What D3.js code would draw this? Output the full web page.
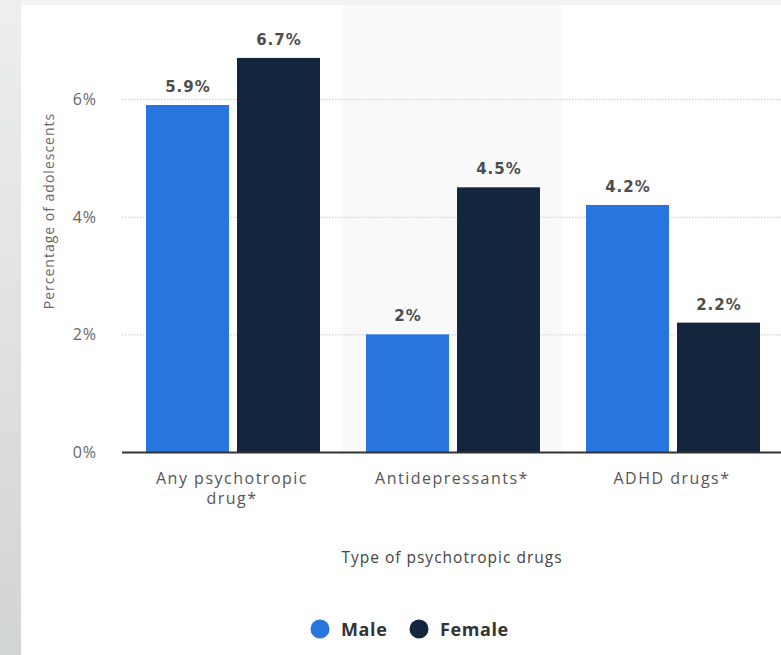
<!DOCTYPE html>
<html>
<head>
<meta charset="utf-8">
<script src="https://cdnjs.cloudflare.com/ajax/libs/d3/7.8.5/d3.min.js"></script>
<style>
  html, body { margin: 0; padding: 0; background: #f3f3f3; }
  svg { display: block; }
</style>
</head>
<body>
<div id="chart"></div>
<script>
// data
var categories = ["Any psychotropic drug*", "Antidepressants*", "ADHD drugs*"];
var categoryLines = [["Any psychotropic", "drug*"], ["Antidepressants*"], ["ADHD drugs*"]];
var groups = ["Male", "Female"];
var maleValues = [5.9, 2, 4.2];
var femaleValues = [6.7, 4.5, 2.2];
var yTicks = [0, 2, 4, 6];
var colors = ["#2876dd", "#13263d"];

var W = 781, H = 655;

var svg = d3.select("#chart")
  .append("svg")
    .attr("width", W)
    .attr("height", H);

// page background: left strip gradient + white panel
var defs = svg.append("defs");
var grad = defs.append("linearGradient")
    .attr("id", "side")
    .attr("x1", 0).attr("y1", 0).attr("x2", 0).attr("y2", 1);
grad.append("stop").attr("offset", "0%").attr("stop-color", "#eeeeee");
grad.append("stop").attr("offset", "100%").attr("stop-color", "#d2d5d5");

svg.append("rect")
    .attr("x", 0).attr("y", 0)
    .attr("width", W).attr("height", H)
    .attr("fill", "#f3f3f3");
svg.append("rect")
    .attr("x", 0).attr("y", 0)
    .attr("width", 21).attr("height", H)
    .attr("fill", "url(#side)");
svg.append("rect")
    .attr("x", 21).attr("y", 5)
    .attr("width", W - 21).attr("height", H - 5)
    .attr("fill", "#ffffff");

var plotLeft = 122, plotRight = 782, plotTop = 5, plotBottom = 452;

var x = d3.scaleBand()
  .domain(categories)
  .range([plotLeft, plotRight]);

var xSub = d3.scaleBand()
  .domain(groups)
  .range([24, x.bandwidth() - 22])
  .paddingInner(0.088);

var y = d3.scaleLinear()
  .domain([0, 7.6])
  .range([plotBottom, plotTop]);

// highlighted middle band
svg.append("rect")
    .attr("x", x(categories[1]))
    .attr("y", plotTop)
    .attr("width", x.bandwidth())
    .attr("height", plotBottom - plotTop)
    .attr("fill", "#f9f9f9");

// gridlines
svg.append("g")
  .selectAll("line")
  .data(yTicks.filter(function(d) { return d > 0; }))
  .enter()
  .append("line")
    .attr("x1", plotLeft)
    .attr("x2", W)
    .attr("y1", function(d) { return y(d) + 0.5; })
    .attr("y2", function(d) { return y(d) + 0.5; })
    .attr("stroke", "#c8c8c8")
    .attr("stroke-width", 1)
    .attr("stroke-dasharray", "1.5,1.5");

// y tick labels
svg.append("g")
  .selectAll("text")
  .data(yTicks)
  .enter()
  .append("text")
    .attr("x", 97)
    .attr("y", function(d) { return y(d) + 6; })
    .attr("text-anchor", "end")
    .attr("font-family", "Open Sans, sans-serif")
    .attr("font-size", 16)
    .attr("letter-spacing", 1)
    .attr("fill", "#666")
    .text(function(d) { return d + "%"; });

// y axis title
svg.append("text")
    .attr("transform", "translate(54,211) rotate(-90)")
    .attr("text-anchor", "middle")
    .attr("font-family", "Open Sans, sans-serif")
    .attr("font-size", 14)
    .attr("letter-spacing", 1)
    .attr("fill", "#666")
    .text("Percentage of adolescents");

// bars
var rows = categories.map(function(c, i) {
  return { cat: c, values: [maleValues[i], femaleValues[i]] };
});

var catG = svg.selectAll(".cat")
  .data(rows)
  .enter()
  .append("g")
    .attr("class", "cat")
    .attr("transform", function(d) { return "translate(" + x(d.cat) + ",0)"; });

catG.selectAll("rect")
  .data(function(d) { return d.values.map(function(v, j) { return { g: groups[j], v: v, j: j }; }); })
  .enter()
  .append("rect")
    .attr("x", function(d) { return xSub(d.g); })
    .attr("y", function(d) { return y(d.v); })
    .attr("width", xSub.bandwidth())
    .attr("height", function(d) { return plotBottom - y(d.v); })
    .attr("fill", function(d) { return colors[d.j]; });

catG.selectAll(".val")
  .data(function(d) { return d.values.map(function(v, j) { return { g: groups[j], v: v, j: j }; }); })
  .enter()
  .append("text")
    .attr("class", "val")
    .attr("x", function(d) { return xSub(d.g) + xSub.bandwidth() / 2 + 0.5; })
    .attr("y", function(d) { return y(d.v) - 13; })
    .attr("text-anchor", "middle")
    .attr("font-family", "DejaVu Sans, sans-serif")
    .attr("font-weight", "bold")
    .attr("font-size", 15)
    .attr("letter-spacing", 1)
    .attr("fill", "#4d4d4d")
    .text(function(d) { return d.v + "%"; });

// x axis line
svg.append("line")
    .attr("x1", plotLeft)
    .attr("x2", W)
    .attr("y1", plotBottom + 0.5)
    .attr("y2", plotBottom + 0.5)
    .attr("stroke", "#333")
    .attr("stroke-width", 2);

// x tick labels
var xLabels = svg.append("g")
  .selectAll("text")
  .data(categories)
  .enter()
  .append("text")
    .attr("x", function(d) { return x(d) + x.bandwidth() / 2; })
    .attr("y", 484)
    .attr("text-anchor", "middle")
    .attr("font-family", "Open Sans, sans-serif")
    .attr("font-size", 16)
    .attr("letter-spacing", 1.5)
    .attr("fill", "#555");

xLabels.selectAll("tspan")
  .data(function(d, i) { return categoryLines[i]; })
  .enter()
  .append("tspan")
    .attr("x", function() { var c = d3.select(this.parentNode).datum(); return x(c) + x.bandwidth() / 2; })
    .attr("dy", function(d, i) { return i === 0 ? 0 : 20; })
    .text(function(d) { return d; });

// x axis title
svg.append("text")
    .attr("x", (plotLeft + plotRight) / 2)
    .attr("y", 563)
    .attr("text-anchor", "middle")
    .attr("font-family", "Open Sans, sans-serif")
    .attr("font-size", 15.5)
    .attr("letter-spacing", 1)
    .attr("fill", "#444")
    .text("Type of psychotropic drugs");

// legend
var legendX = [320, 419];
var legend = svg.selectAll(".legend")
  .data(groups)
  .enter()
  .append("g")
    .attr("class", "legend")
    .attr("transform", function(d, i) { return "translate(" + legendX[i] + ",629)"; });

legend.append("circle")
    .attr("r", 9.5)
    .attr("fill", function(d, i) { return colors[i]; });

legend.append("text")
    .attr("x", 21)
    .attr("y", 7)
    .attr("font-family", "Open Sans, sans-serif")
    .attr("font-weight", "bold")
    .attr("font-size", 18)
    .attr("letter-spacing", 0.6)
    .attr("fill", "#333")
    .text(function(d) { return d; });
</script>
</body>
</html>
